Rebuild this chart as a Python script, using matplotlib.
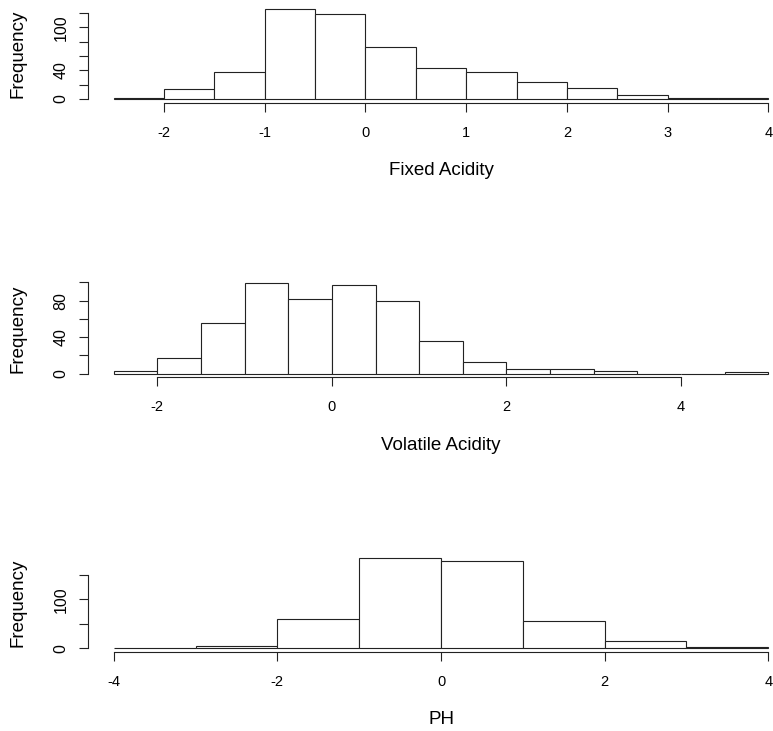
import numpy as np
import matplotlib.pyplot as plt

# Fixed Acidity: left edges of the bins (width 0.5) and counts
fixed_bins = np.arange(-2.5, 4.0, 0.5)
fixed_counts = [1, 14, 38, 126, 118, 72, 43, 38, 24, 15, 6, 2, 1]
fixed_xticks = [-2, -1, 0, 1, 2, 3, 4]
fixed_yticks = [0, 20, 40, 60, 80, 100, 120]
fixed_ylabels = ["0", "", "40", "", "", "100", ""]

# Volatile Acidity
volatile_bins = np.arange(-2.5, 5.0, 0.5)
volatile_counts = [3, 17, 56, 99, 82, 97, 80, 36, 13, 5, 5, 3, 0, 0, 2]
volatile_xticks = [-2, 0, 2, 4]
volatile_yticks = [0, 20, 40, 60, 80, 100]
volatile_ylabels = ["0", "", "40", "", "80", ""]

# PH (width 1)
ph_bins = np.arange(-4, 4, 1)
ph_counts = [1, 5, 59, 185, 178, 56, 14, 2]
ph_xticks = [-4, -2, 0, 2, 4]
ph_yticks = [0, 50, 100, 150]
ph_ylabels = ["0", "", "100", ""]

plt.rcParams["font.family"] = ["Liberation Sans", "DejaVu Sans"]

W, H = 773, 731


def histograma(ax, bins, counts, width, xticks, yticks, ylabels, xlabel):
    ax.bar(bins, counts, width=width, align="edge", color="white",
           edgecolor="#222222", linewidth=0.8)

    # R style limits: data range plus 4% each side
    lo, hi = bins[0], bins[-1] + width
    pad = 0.04 * (hi - lo)
    ax.set_xlim(lo - pad, hi + pad)
    top = max(counts)
    ax.set_ylim(-0.04 * top, 1.04 * top)

    ax.set_xticks(xticks)
    ax.set_xticklabels([str(t) for t in xticks])
    ax.set_yticks(yticks)
    ax.set_yticklabels(ylabels, rotation=90, va="center")

    for s in ["top", "right"]:
        ax.spines[s].set_visible(False)
    ax.spines["bottom"].set_bounds(xticks[0], xticks[-1])
    ax.spines["left"].set_bounds(yticks[0], yticks[-1])
    for s in ["bottom", "left"]:
        ax.spines[s].set_linewidth(0.8)
        ax.spines[s].set_color("#222222")

    ax.tick_params(axis="both", direction="out", length=6.5, width=0.8,
                   color="#222222")
    ax.tick_params(axis="x", pad=10, labelsize=10.5)
    ax.tick_params(axis="y", pad=7, labelsize=11.5)

    ax.annotate(xlabel, xy=(0.5, 0), xycoords="axes fraction",
                xytext=(0, -49), textcoords="offset points",
                ha="center", va="center", fontsize=13.5)
    ax.annotate("Frequency", xy=(0, 0.5), xycoords="axes fraction",
                xytext=(-50, 0), textcoords="offset points",
                ha="center", va="center", rotation=90, fontsize=13.5)


fig = plt.figure(figsize=(W / 100, H / 100), dpi=100)

left = 87.5 / W
width = 707 / W
height = 97.5 / H

ax1 = fig.add_axes([left, 1 - 102.6 / H, width, height])
histograma(ax1, fixed_bins, fixed_counts, 0.5, fixed_xticks,
           fixed_yticks, fixed_ylabels, "Fixed Acidity")

ax2 = fig.add_axes([left, 1 - 377.3 / H, width, height])
histograma(ax2, volatile_bins, volatile_counts, 0.5, volatile_xticks,
           volatile_yticks, volatile_ylabels, "Volatile Acidity")

ax3 = fig.add_axes([left, 1 - 651.9 / H, width, height])
histograma(ax3, ph_bins, ph_counts, 1, ph_xticks,
           ph_yticks, ph_ylabels, "PH")

fig.savefig("out.png", dpi=100)
